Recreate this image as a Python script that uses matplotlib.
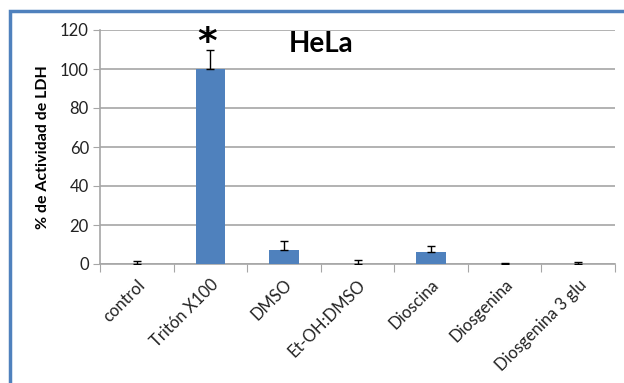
import matplotlib.pyplot as plt
from matplotlib.patches import Rectangle

categories = ["control", "Tritón X100", "DMSO", "Et-OH:DMSO", "Dioscina", "Diosgenina", "Diosgenina 3 glu"]
values = [0.0, 100.0, 7.0, 0.0, 6.3, 0.0, 0.0]
errors = [1.5, 9.5, 5.0, 1.8, 2.7, 0.6, 1.0]
yticks = [0, 20, 40, 60, 80, 100, 120]

plt.rcParams['font.family'] = ['Lato', 'DejaVu Sans']

W, H = 624, 383
fig = plt.figure(figsize=(W / 100, H / 100), dpi=100)
fig.patch.set_facecolor('white')

# outer frame (open to the right and bottom)
fig.add_artist(Rectangle((10 / W, -0.1), 1.2, (H - 11) / H + 0.1, transform=fig.transFigure,
                         fill=False, edgecolor='#4F81BD', linewidth=2.5, zorder=0))

ax = fig.add_axes([100 / W, 1 - 264 / H, (615 - 100) / W, (264 - 30) / H])
x = list(range(len(categories)))
ax.bar(x, values, width=0.4, color='#4F81BD', zorder=3)
ax.errorbar(x, values, yerr=[[0] * len(errors), errors], fmt='none', ecolor='black',
            elinewidth=1, capsize=3, capthick=1, zorder=4)

ax.set_xlim(-0.5, len(categories) - 0.5)
ax.set_ylim(0, 120)
ax.set_yticks(yticks)
ax.set_yticklabels([str(t) for t in yticks], fontsize=12, color='#222222')
ax.yaxis.grid(True, color='#A6A6A6', linewidth=1.2, zorder=0)
ax.set_axisbelow(True)

for s in ['top', 'right']:
    ax.spines[s].set_visible(False)
for s in ['left', 'bottom']:
    ax.spines[s].set_color('#A6A6A6')
    ax.spines[s].set_linewidth(1.2)

ax.tick_params(axis='y', length=5, color='#A6A6A6', pad=3)
ax.set_xticks([i + 0.5 for i in range(-1, len(categories))], minor=False)
ax.set_xticklabels([])
ax.tick_params(axis='x', which='major', length=6, color='#A6A6A6')
ax.set_xticks(x, minor=True)
ax.set_xticklabels(categories, minor=True, rotation=45, ha='right', rotation_mode='anchor',
                   fontsize=12, color='#222222')
ax.tick_params(axis='x', which='minor', length=0, pad=9)

ax.set_ylabel('% de Actividad de LDH', fontsize=11.5, fontweight='bold', labelpad=7)

ax.text(0.95, 113.5, '*', ha='center', va='center', fontsize=27, fontweight='bold',
        family='DejaVu Sans')
ax.text(2.5, 112.8, 'HeLa', ha='center', va='center', fontsize=20, fontweight='bold')

fig.savefig('out.png', dpi=100)
